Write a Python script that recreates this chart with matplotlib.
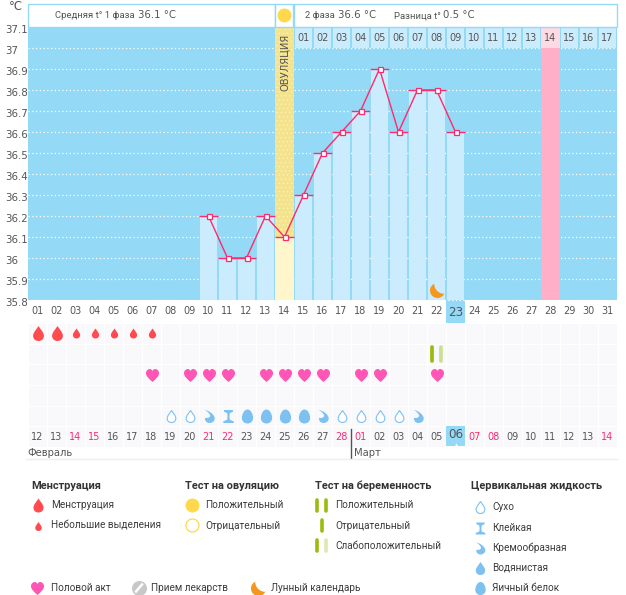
import numpy as np
import matplotlib
matplotlib.use("Agg")
import matplotlib.pyplot as plt
from matplotlib.colors import ListedColormap
from matplotlib.path import Path
from matplotlib.transforms import ScaledTranslation

W, H = 626, 595

# temperature chart
temp_days = [10, 11, 12, 13, 14, 15, 16, 17, 18, 19, 20, 21, 22, 23]
temp_vals = [36.2, 36.0, 36.0, 36.2, 36.1, 36.3, 36.5, 36.6, 36.7, 36.9, 36.6, 36.8, 36.8, 36.6]
y_ticks = [35.8, 35.9, 36, 36.1, 36.2, 36.3, 36.4, 36.5, 36.6, 36.7, 36.8, 36.9, 37, 37.1]
y_labels = ["35.8", "35.9", "36", "36.1", "36.2", "36.3", "36.4", "36.5", "36.6", "36.7", "36.8", "36.9", "37", "37.1"]
cycle_days = list(range(1, 32))
cycle_labels = ["%02d" % d for d in cycle_days]
ovulation_day = 14
next_period_day = 28
today = 23
moon_day = 22
second_phase_days = list(range(15, 32))
second_phase_labels = ["%02d" % (d - 14) for d in second_phase_days]

# calendar rows
dates = ["12", "13", "14", "15", "16", "17", "18", "19", "20", "21", "22", "23", "24", "25", "26", "27", "28",
         "01", "02", "03", "04", "05", "06", "07", "08", "09", "10", "11", "12", "13", "14"]
weekend_days = [3, 4, 10, 11, 17, 18, 24, 25, 31]
heavy_days = [1, 2]
light_days = [3, 4, 5, 6, 7]
test_days = [22]
heart_days = [7, 9, 10, 11, 13, 14, 15, 16, 18, 19, 22]
dry_days = [8, 9, 17, 18, 19, 20]
creamy_days = [10, 16, 21]
sticky_days = [11]
egg_days = [12, 13, 14, 15]

BLUE = "#94D9F6"
LIGHT = "#CBECFD"
TXT = "#555555"
RED = "#FF4A4F"
PINK = "#FF55B4"
DROP = "#7CC1F0"
GREEN = "#99BD0C"
SOFT = "#CDDF94"
SUN = "#FFD84D"
MOON = "#F5961E"
SANS = "Roboto"

# marker shapes
drop_m = Path([(0, 1), (-0.2, 0.65), (-0.72, 0.15), (-0.72, -0.3), (-0.72, -0.75), (-0.4, -1), (0, -1),
               (0.4, -1), (0.72, -0.75), (0.72, -0.3), (0.72, 0.15), (0.2, 0.65), (0, 1), (0, 1)],
              [1, 4, 4, 4, 4, 4, 4, 4, 4, 4, 4, 4, 4, 79])
heart_m = Path([(0, -1), (-0.5, -0.55), (-1, -0.15), (-1, 0.35), (-1, 0.8), (-0.65, 1), (-0.4, 1),
                (-0.2, 1), (-0.05, 0.85), (0, 0.65), (0.05, 0.85), (0.2, 1), (0.4, 1),
                (0.65, 1), (1, 0.8), (1, 0.35), (1, -0.15), (0.5, -0.55), (0, -1), (0, -1)],
               [1, 4, 4, 4, 4, 4, 4, 4, 4, 4, 4, 4, 4, 4, 4, 4, 4, 4, 4, 79])
egg_m = Path([(0, 1), (-0.5, 1), (-0.8, 0.3), (-0.8, -0.2), (-0.8, -0.7), (-0.45, -1), (0, -1),
              (0.45, -1), (0.8, -0.7), (0.8, -0.2), (0.8, 0.3), (0.5, 1), (0, 1), (0, 1)],
             [1, 4, 4, 4, 4, 4, 4, 4, 4, 4, 4, 4, 4, 79])
sticky_m = Path([(-0.7, 1), (0.7, 1), (0.7, 0.75), (0.2, 0.5), (0.15, 0), (0.2, -0.5), (0.8, -0.75), (0.8, -1),
                 (-0.8, -1), (-0.8, -0.75), (-0.2, -0.5), (-0.15, 0), (-0.2, 0.5), (-0.7, 0.75), (-0.7, 1)],
                [1, 2, 2, 2, 2, 2, 2, 2, 2, 2, 2, 2, 2, 2, 79])
creamy_m = Path([(-0.75, 1), (-0.1, 0.95), (0.8, 0.3), (0.8, -0.3), (0.8, -0.75), (0.4, -1), (0, -1),
                 (-0.45, -1), (-0.75, -0.65), (-0.7, -0.2), (-0.3, -0.3), (0.1, -0.15), (0.1, 0.15),
                 (-0.05, 0.55), (-0.4, 0.85), (-0.75, 1), (-0.75, 1)],
                [1, 4, 4, 4, 4, 4, 4, 4, 4, 4, 4, 4, 4, 4, 4, 4, 79])
_a = np.radians(np.linspace(113, 337, 40))
_b = np.radians(np.linspace(-85, -185, 30))
moon_m = Path(np.vstack([np.c_[np.cos(_a), np.sin(_a)],
                         np.c_[0.88 + 1.315 * np.cos(_b), 0.88 + 1.315 * np.sin(_b)]]), closed=False)


def area(px_l, px_t, px_r, px_b):
    return [px_l / W, 1 - px_b / H, (px_r - px_l) / W, (px_b - px_t) / H]


def put(ax, x, y, shape, size_px, face, edge="none", lw=0, zorder=5):
    # size_px is the full height of the mark
    ax.plot(x, y, linestyle="none", marker=shape, markersize=size_px * 0.72,
            markerfacecolor=face, markeredgecolor=edge, markeredgewidth=lw, zorder=zorder, clip_on=False)


def test_bars(ax, x, y, c1, c2=None, lw=2.6):
    if c2 is None:
        ax.plot([x, x], [y - 5.5, y + 5.5], color=c1, lw=lw, solid_capstyle="round")
    else:
        ax.plot([x - 4.5, x - 4.5], [y - 5.5, y + 5.5], color=c1, lw=lw, solid_capstyle="round")
        ax.plot([x + 4.5, x + 4.5], [y - 5.5, y + 5.5], color=c2, lw=lw, solid_capstyle="round")


plt.rcParams["hatch.linewidth"] = 0.4
fig = plt.figure(figsize=(W / 100, H / 100), dpi=100, facecolor="white")

# ---- main chart
ax = fig.add_axes(area(28, 27, 617, 300))
ax.set_facecolor(BLUE)
ax.set_xlim(0.5, 31.5)
ax.set_ylim(35.8, 37.1)
for s in ax.spines.values():
    s.set_visible(False)

ax.hlines(y_ticks[:-1], 0.5, 31.5, color="white", lw=0.9, linestyles=(0, (1, 2)), zorder=1, clip_on=False)

ax.bar(temp_days, np.array(temp_vals) - 35.8, bottom=35.8, width=0.93, color=LIGHT, zorder=2)
ax.bar(second_phase_days, [0.1] * len(second_phase_days), bottom=37.0, width=0.93, color=LIGHT, zorder=2)
ax.bar([next_period_day], [1.2], bottom=35.8, width=0.95, color="#FFB0C8", zorder=2)
ax.bar([next_period_day], [0.1], bottom=37.0, width=0.95, color="#FFD9E4", zorder=2)

ov_val = temp_vals[temp_days.index(ovulation_day)]
ax.bar([ovulation_day], [37.1 - ov_val], bottom=ov_val, width=0.95, color="#F3E38F", edgecolor="#FBF3C4",
       hatch="....", linewidth=0, zorder=3)
ax.bar([ovulation_day], [ov_val - 35.8], bottom=35.8, width=0.95, color="#FFF6CC", zorder=3)
ax.text(ovulation_day, 37.07, "ОВУЛЯЦИЯ", rotation=90, ha="center", va="top", fontsize=7.2, color=TXT, zorder=4)

for d, lab in zip(second_phase_days, second_phase_labels):
    ax.text(d, 37.05, lab, ha="center", va="center", fontsize=7, color=TXT, zorder=4)

ax.hlines(temp_vals, np.array(temp_days) - 0.48, np.array(temp_days) + 0.48, color="#FF2A6D", lw=1, zorder=5)
ax.plot(temp_days, temp_vals, color="#FF2A6D", lw=1, marker="s", markersize=3.6,
        markerfacecolor="white", markeredgecolor="#FF2A6D", markeredgewidth=0.9, zorder=6)
put(ax, [moon_day], [35.848], moon_m, 15, MOON, zorder=6)

ax.set_xticks(cycle_days)
ax.set_xticklabels(cycle_labels, fontsize=7, color=TXT)
ax.tick_params(axis="x", length=0, pad=4.2)
for lab, d in zip(ax.get_xticklabels(), cycle_days):
    if d == today:
        lab.set_fontsize(8.6)
ax.set_yticks(y_ticks)
ax.set_yticklabels(y_labels, fontsize=7.4, color=TXT, ha="left")
ax.tick_params(axis="y", length=0, pad=16.5)
shift = ScaledTranslation(0, -2 / 100, fig.dpi_scale_trans)
for lab in ax.get_yticklabels():
    lab.set_transform(lab.get_transform() + shift)

# today cell under the axis
ax.bar([today], [-23 / 273 * 1.3], bottom=35.8, width=0.95, color=BLUE, zorder=0, clip_on=False)

# ---- calendar
cal = fig.add_axes(area(28, 323, 617, 447))
cal.set_xlim(0.5, 31.5)
cal.set_ylim(6, 0)
cal.axis("off")
xe = np.arange(0.5, 32.5)
ye = np.arange(0, 7)
cal.pcolormesh(xe, ye, np.zeros((6, 31)), cmap=ListedColormap(["#F9F9FC"]), edgecolors="white", linewidth=0.4)
cal.bar([today], [0.95], bottom=5.0, width=0.95, color=BLUE)
cal.plot([today], [5.9], linestyle="none", marker="^", markersize=3, color="white", markeredgewidth=0)

put(cal, heavy_days, [0.5] * len(heavy_days), drop_m, 15, RED)
put(cal, light_days, [0.5] * len(light_days), drop_m, 10, RED)
for d in test_days:
    cal.plot([d - 0.23, d - 0.23], [1.18, 1.82], color=GREEN, lw=2.7, solid_capstyle="round")
    cal.plot([d + 0.23, d + 0.23], [1.18, 1.82], color=SOFT, lw=2.7, solid_capstyle="round")
put(cal, heart_days, [2.5] * len(heart_days), heart_m, 13, PINK)
put(cal, dry_days, [4.5] * len(dry_days), drop_m, 12, "white", DROP, 0.8)
put(cal, creamy_days, [4.5] * len(creamy_days), creamy_m, 13, DROP)
put(cal, sticky_days, [4.5] * len(sticky_days), sticky_m, 13, DROP)
put(cal, egg_days, [4.5] * len(egg_days), egg_m, 14, DROP)

for i, lab in enumerate(dates):
    d = i + 1
    col = "#FF2A6D" if d in weekend_days else TXT
    big = d == today
    cal.text(d, 5.4 if big else 5.5, lab, ha="center", va="center", fontsize=8.6 if big else 7, color=col)

# ---- everything placed in pixels
px = fig.add_axes([0, 0, 1, 1], zorder=10)
px.set_xlim(0, W)
px.set_ylim(H, 0)
px.axis("off")

for l, r in [(27.5, 274.5), (275, 293), (293.5, 616.5)]:
    px.fill([l, r, r, l], [3.5, 3.5, 27, 27], facecolor="white", edgecolor=BLUE, lw=1)
put(px, [284], [15], "o", 14, SUN)
px.text(55, 15.5, "Средняя t° 1 фаза", fontsize=6.8, family=SANS, color=TXT, va="center")
px.text(138, 15, "36.1 °C", fontsize=7.3, color=TXT, va="center")
px.text(305, 15.5, "2 фаза", fontsize=6.8, family=SANS, color=TXT, va="center")
px.text(338, 15, "36.6 °C", fontsize=7.3, color=TXT, va="center")
px.text(394, 15.5, "Разница t°", fontsize=6.8, family=SANS, color=TXT, va="center")
px.text(443, 15, "0.5 °C", fontsize=7.3, color=TXT, va="center")
px.text(9, 6.5, "°C", fontsize=8.4, color=TXT, va="center")

px.text(27, 453, "Февраль", fontsize=7.2, color=TXT, va="center")
px.text(354, 453, "Март", fontsize=7.2, color=TXT, va="center")
px.plot([350.5, 350.5], [429, 458], color="#555555", lw=1)
px.plot([26, 617], [458.5, 458.5], color="#EEEEEE", lw=1)

# legend
def heading(x, y, s):
    px.text(x, y, s, fontsize=7.9, fontweight="bold", family=SANS, color="#333333", va="center")


def item(x, y, s):
    px.text(x, y, s, fontsize=7.2, family=SANS, color="#3C3C3C", va="center")


heading(31, 486, "Менструация")
put(px, [38], [505], drop_m, 14, RED)
item(51, 505, "Менструация")
put(px, [38], [526], drop_m, 9, RED)
item(51, 526, "Небольшие выделения")

heading(185, 486, "Тест на овуляцию")
put(px, [192], [505], "o", 14, SUN)
item(205, 505, "Положительный")
put(px, [192], [525], "o", 13, "white", SUN, 0.9)
item(205, 526, "Отрицательный")

heading(315, 486, "Тест на беременность")
test_bars(px, 321.5, 505, GREEN, GREEN)
item(335, 505, "Положительный")
test_bars(px, 322, 525, GREEN)
item(335, 526, "Отрицательный")
test_bars(px, 321.5, 545, GREEN, "#DDE8B5")
item(335, 546, "Слабоположительный")

heading(471, 486, "Цервикальная жидкость")
put(px, [480], [507], drop_m, 12, "white", DROP, 0.8)
item(492, 507, "Сухо")
put(px, [480], [528], sticky_m, 12, DROP)
item(492, 528, "Клейкая")
put(px, [480], [548], creamy_m, 12, DROP)
item(492, 548, "Кремообразная")
put(px, [480], [568], drop_m, 13, DROP)
item(492, 568, "Водянистая")
put(px, [480], [588], egg_m, 13, DROP)
item(492, 588, "Яичный белок")

put(px, [37], [588], heart_m, 13, PINK)
item(51, 588, "Половой акт")
put(px, [139], [588], "o", 15, "#C8C8C8")
px.plot([136, 142], [591.5, 584.5], color="white", lw=1.8, zorder=6)
item(151, 588, "Прием лекарств")
put(px, [258], [588], moon_m, 15, MOON)
item(271, 588, "Лунный календарь")

fig.savefig("out.png", dpi=100)
